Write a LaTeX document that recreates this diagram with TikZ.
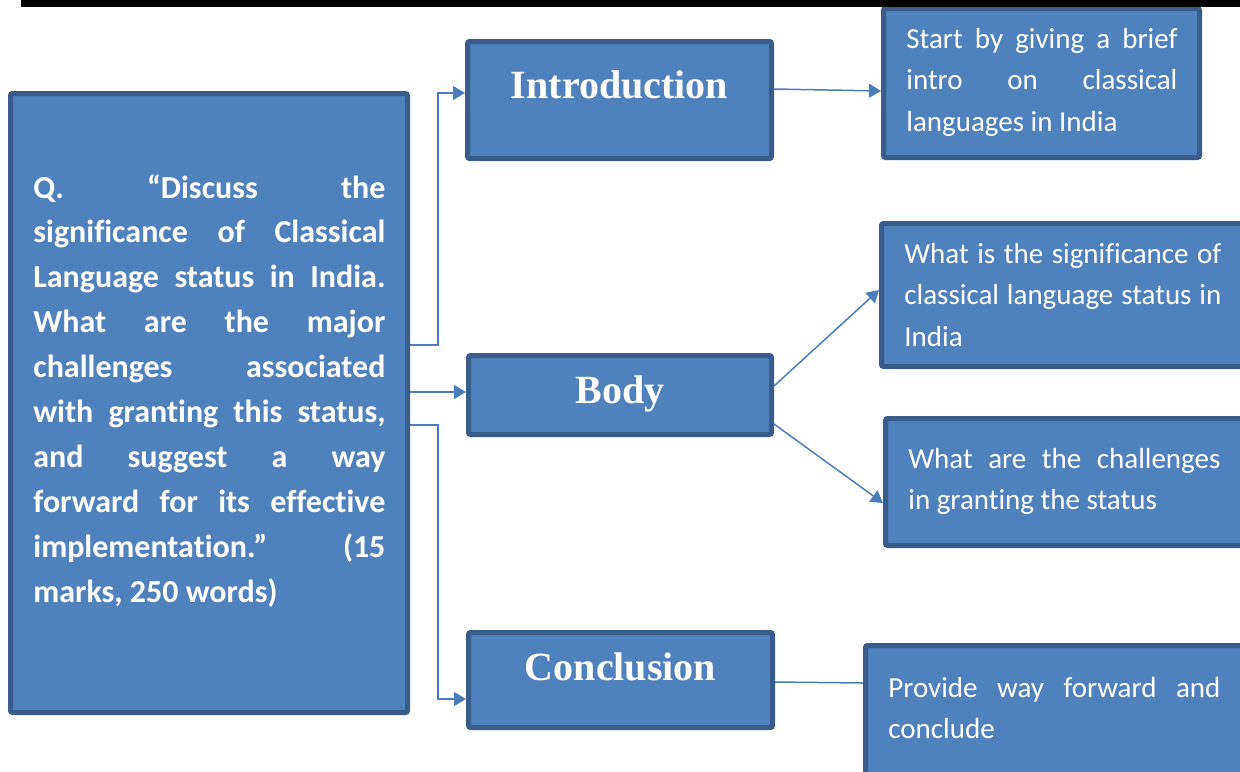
\documentclass[tikz,border=0pt]{standalone}
\usepackage{fontspec}
\setmainfont{Carlito}[Ligatures=NoCommon]
\newfontfamily\headfont{Liberation Serif}
\usetikzlibrary{arrows.meta}

\definecolor{boxfill}{HTML}{4F81BD}
\definecolor{boxline}{HTML}{385D8A}
\definecolor{linkcol}{HTML}{4A7EBB}

\newcommand\loosepar{\tolerance=10000\relax\hbadness=10000\relax}

\tikzset{
  box/.style={draw=boxline, fill=boxfill, line width=2.5pt, rounded corners=1pt,
    inner sep=0pt, anchor=north west},
  headtext/.style={text=white, inner sep=0pt, anchor=base,
    font=\headfont\bfseries\fontsize{20pt}{24pt}\selectfont},
  qtext/.style={text=white, inner sep=0pt, anchor=base west, align=justify,
    font=\bfseries\fontsize{16pt}{22.45pt}\selectfont},
  notetext/.style={text=white, inner sep=0pt, anchor=base west, align=justify,
    font=\fontsize{14.5pt}{20.65pt}\selectfont},
  conn/.style={draw=linkcol, line width=0.75pt, -{Triangle[length=6pt,width=7pt]}},
  connplain/.style={draw=linkcol, line width=0.75pt},
}

\begin{document}
\begin{tikzpicture}[x=0.5pt, y=-0.5pt]
\useasboundingbox (0,0) rectangle (1240,771);

% question box
\node[box, minimum width=198.5pt, minimum height=309.5pt] (q) at (8,91) {};
\node[qtext, text width=176pt] (qt) at (33,198) {\loosepar Q. “Discuss the\linebreak
significance of Classical\linebreak
Language status in India.\linebreak
What are the major\linebreak
challenges associated\linebreak
with granting this status,\linebreak
and suggest a way\linebreak
forward for its effective\linebreak
implementation.” (15\linebreak
marks, 250 words)};

% answer structure boxes
\node[box, minimum width=152pt, minimum height=58.5pt] (intro) at (465,39) {};
\node[headtext] (introt) at (619.5,98) {Introduction};
\node[box, minimum width=151.5pt, minimum height=39.5pt] (body) at (466,353) {};
\node[headtext] (bodyt) at (620,403.5) {Body};
\node[box, minimum width=152pt, minimum height=47.5pt] (concl) at (466,630) {};
\node[headtext] (conclt) at (620.5,680) {Conclusion};

% guidance boxes
\node[box, minimum width=158pt, minimum height=74.5pt] (ir) at (881,6) {};
\node[notetext, text width=135.5pt] (irt) at (906,48.5) {\loosepar Start by giving a brief\linebreak
intro on classical\linebreak languages in India};
\node[box, minimum width=188pt, minimum height=71.5pt] (sig) at (879,221) {};
\node[notetext, text width=158.5pt] (sigt) at (904,263.5) {\loosepar What is the significance of\linebreak
classical language status in\linebreak India};
\node[box, minimum width=186pt, minimum height=63.5pt] (chal) at (883,416) {};
\node[notetext, text width=156pt] (chalt) at (908,468.5) {\loosepar What are the challenges\linebreak
in granting the status};
\node[box, minimum width=196pt, minimum height=71pt] (prov) at (863,643) {};
\node[notetext, text width=166pt] (provt) at (888,697.5) {\loosepar Provide way forward and\linebreak conclude};

% connectors
\draw[conn] (q.east |- 0,345) -- ++(28,0) |- (intro.west |- 0,93);
\draw[conn] (q.east |- 0,392) -- (body.west |- 0,392);
\draw[conn] (q.east |- 0,425) -- ++(28,0) |- (concl.west |- 0,699);
\draw[conn] (intro.east |- 0,89) -- (ir.west |- 0,91);
\draw[conn] (body.east |- 0,386) -- (sig.west |- 0,290);
\draw[conn] (body.east |- 0,424) -- (chal.west |- 0,503);
\draw[connplain] (concl.east |- 0,682) -- (prov.west |- 0,683);

% top rule
\fill[black] (21,0) rectangle (1240,7);
\end{tikzpicture}
\end{document}
